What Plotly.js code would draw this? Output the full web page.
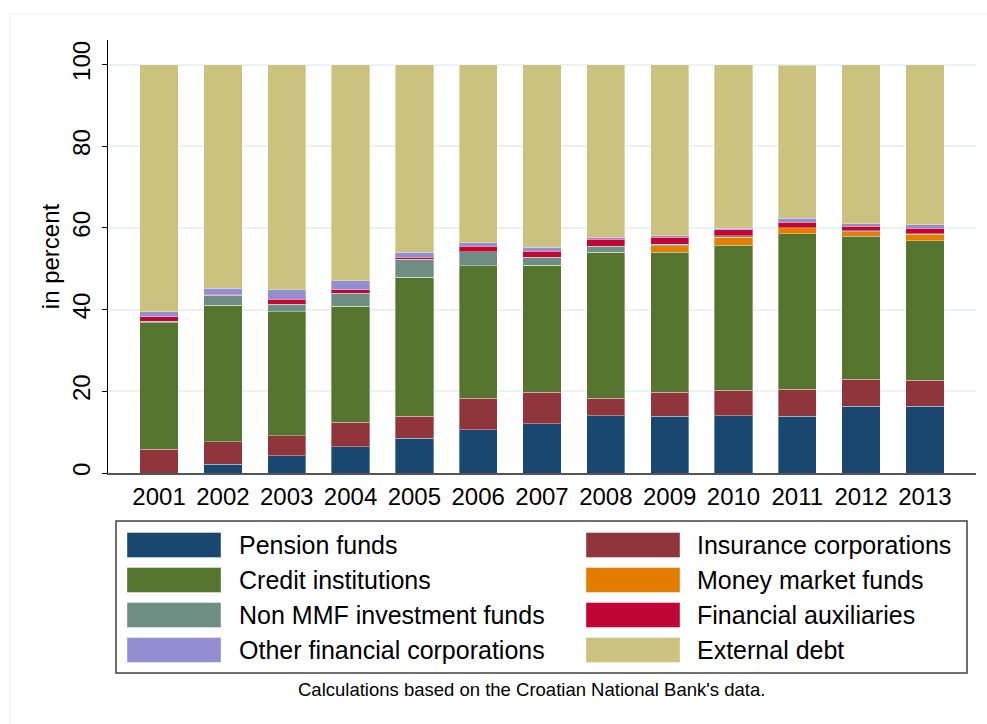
<!DOCTYPE html>
<html>
<head>
<meta charset="utf-8">
<script src="https://cdn.plot.ly/plotly-3.0.1.min.js"></script>
<style>html,body{margin:0;padding:0;background:#fff;}#chart{width:987px;height:724px;}</style>
</head>
<body>
<div id="chart"></div>
<script>
// ---- data (percent of total) ----
const years = ['2001','2002','2003','2004','2005','2006','2007','2008','2009','2010','2011','2012','2013'];
const pension   = [0.0, 2.1, 4.2, 6.4, 8.5, 10.6, 12.0, 14.0, 13.9, 14.0, 13.9, 16.3, 16.4];
const insurance = [5.8, 5.5, 4.9, 6.0, 5.4, 7.7, 7.8, 4.3, 5.9, 6.3, 6.6, 6.6, 6.3];
const credit    = [31.0, 33.5, 30.4, 28.4, 34.0, 32.4, 31.1, 35.7, 34.2, 35.5, 38.1, 35.1, 34.1];
const mmf       = [0.0, 0.0, 0.0, 0.0, 0.0, 0.0, 0.0, 0.0, 1.6, 1.9, 1.4, 1.1, 1.6];
const nonMMF    = [0.3, 2.4, 1.8, 3.2, 4.4, 3.5, 1.9, 1.5, 0.4, 0.4, 0.1, 0.2, 0.2];
const finAux    = [1.2, 0.3, 1.2, 0.9, 0.5, 1.3, 1.5, 1.7, 1.7, 1.4, 1.3, 1.1, 1.3];
const otherFin  = [1.2, 1.4, 2.4, 2.2, 1.2, 0.9, 1.0, 0.5, 0.4, 0.4, 1.0, 0.6, 0.9];
const external  = [60.5, 54.8, 55.1, 52.9, 46.0, 43.6, 44.7, 42.3, 41.9, 40.1, 37.4, 39.0, 39.2];

const seriesNames = ['Pension funds','Insurance corporations','Credit institutions','Money market funds',
                     'Non MMF investment funds','Financial auxiliaries','Other financial corporations','External debt'];
const seriesValues = [pension, insurance, credit, mmf, nonMMF, finAux, otherFin, external];
const seriesColors = ['#1a476f','#90353b','#55752f','#e37e00','#6e8e84','#c10534','#938dd2','#cac27e'];

const FONT = '"Liberation Sans", Arial, Helvetica, sans-serif';

const traces = seriesNames.map((n, i) => ({
  type: 'bar', name: n, x: years, y: seriesValues[i], width: 0.6,
  marker: {color: seriesColors[i], line: {width: 1, color: 'rgba(255,255,255,0.35)'}},
  hoverinfo: 'x+y+name'
}));

// plot area in pixels
const PL = 108, PT = 40, PW = 868, PH = 433;
const X = p => (p - PL) / PW;
const Y = p => (PT + PH - p) / PH;

const shapes = [];
const annotations = [];

// faint outer frame (top and left)
shapes.push({type:'line', xref:'paper', yref:'paper', x0:X(10), x1:X(987), y0:Y(14), y1:Y(14), line:{color:'#eeeeee', width:1}});
shapes.push({type:'line', xref:'paper', yref:'paper', x0:X(10), x1:X(10), y0:Y(14), y1:Y(724), line:{color:'#eeeeee', width:1}});

// legend box
shapes.push({type:'rect', xref:'paper', yref:'paper', x0:X(116), x1:X(967), y0:Y(521), y1:Y(673),
  line:{color:'#404040', width:1.5}, fillcolor:'rgba(0,0,0,0)'});

// legend entries in legend order (row-major, two columns)
const colSwatchX = [127, 586], colTextX = [237, 695];
const rowY = [545, 580, 615, 650];
const legendOrder = [0, 1, 2, 3, 4, 5, 6, 7];
legendOrder.forEach((si, k) => {
  const col = k % 2, row = Math.floor(k / 2);
  shapes.push({type:'rect', xref:'paper', yref:'paper',
    x0:X(colSwatchX[col]), x1:X(colSwatchX[col] + 94),
    y0:Y(rowY[row] + 12.5), y1:Y(rowY[row] - 12.5),
    fillcolor: seriesColors[si], line:{width:0.8, color:'rgba(255,255,255,0.5)'}});
  annotations.push({xref:'paper', yref:'paper', x:X(colTextX[col]), y:Y(rowY[row]),
    xanchor:'left', yanchor:'middle', showarrow:false, text: seriesNames[si],
    font:{family:FONT, size:25, color:'#000'}});
});

// footnote
annotations.push({xref:'paper', yref:'paper', x:X(531), y:Y(689), xanchor:'center', yanchor:'middle',
  showarrow:false, text:"Calculations based on the Croatian National Bank's data.",
  font:{family:FONT, size:18.5, color:'#000'}});

const layout = {
  width: 987, height: 724,
  margin: {l: PL, r: 987 - PL - PW, t: PT, b: 724 - PT - PH, pad: 0},
  paper_bgcolor: '#ffffff', plot_bgcolor: '#ffffff',
  barmode: 'stack', bargap: 0.4,
  showlegend: false,
  font: {family: FONT, color: '#000'},
  xaxis: {
    type: 'category', range: [-0.8, 12.8], showgrid: false, zeroline: false,
    showline: true, linecolor: '#555555', linewidth: 2, ticks: '',
    tickfont: {family: FONT, size: 24, color: '#000'}, ticklabelstandoff: 1
  },
  yaxis: {
    range: [0, 106], tickvals: [0, 20, 40, 60, 80, 100], ticktext: ['0','20','40','60','80','100'],
    showgrid: true, gridcolor: '#eaf2f3', gridwidth: 2, zeroline: false,
    showline: true, linecolor: '#000', linewidth: 1,
    ticks: 'outside', ticklen: 5, tickcolor: '#000', tickwidth: 1,
    tickangle: -90, tickfont: {family: FONT, size: 24, color: '#000'}, ticklabelstandoff: 2,
    title: {text: 'in percent', font: {family: FONT, size: 24, color: '#000'}, standoff: 2}
  },
  shapes: shapes,
  annotations: annotations
};

Plotly.newPlot('chart', traces, layout, {displayModeBar: false, staticPlot: true});
</script>
</body>
</html>
